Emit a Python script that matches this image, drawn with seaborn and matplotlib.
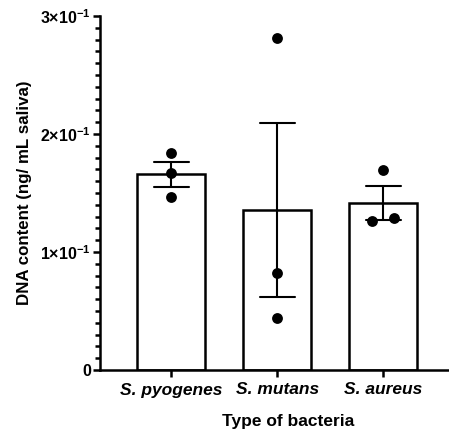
import numpy as np
import pandas as pd
import matplotlib
matplotlib.use("Agg")
import matplotlib.pyplot as plt
from matplotlib.ticker import MultipleLocator, FixedLocator
import seaborn as sns

# ---- data ----
categories = ["S. pyogenes", "S. mutans", "S. aureus"]
pyogenes_vals = [0.184, 0.167, 0.147]
mutans_vals = [0.281, 0.082, 0.044]
aureus_vals = [0.1695, 0.1263, 0.1288]
y_tick_values = [0.0, 0.1, 0.2, 0.3]
y_tick_labels = ["0", r"$1{\times}10^{-1}$",
                 r"$2{\times}10^{-1}$", r"$3{\times}10^{-1}$"]
y_label = "DNA content (ng/ mL saliva)"
x_label = "Type of bacteria"

df = pd.DataFrame({
    "bacteria": [categories[0]] * len(pyogenes_vals)
    + [categories[1]] * len(mutans_vals)
    + [categories[2]] * len(aureus_vals),
    "dna": pyogenes_vals + mutans_vals + aureus_vals,
})

sns.set_theme(style="ticks")
plt.rcParams["font.family"] = ["Liberation Sans", "DejaVu Sans"]
plt.rcParams["font.weight"] = "bold"
plt.rcParams["mathtext.fontset"] = "custom"
plt.rcParams["mathtext.rm"] = "Liberation Sans:bold"
plt.rcParams["mathtext.bf"] = "Liberation Sans:bold"
plt.rcParams["mathtext.it"] = "Liberation Sans:bold:italic"
plt.rcParams["mathtext.default"] = "rm"

W, H = 449, 438
fig = plt.figure(figsize=(W / 100, H / 100), dpi=100)
ax = fig.add_axes([100 / W, (H - 370) / H, 348 / W, 354 / H])

lw = 1.8
sns.barplot(data=df, x="bacteria", y="dna", order=categories, ax=ax,
            color="white", saturation=1, edgecolor="black", linewidth=lw,
            width=0.64, errorbar=("se", 1), capsize=0.33,
            err_kws={"color": "black", "linewidth": 1.5})
sns.swarmplot(data=df, x="bacteria", y="dna", order=categories, ax=ax,
              color="black", size=7.8, zorder=5)

ax.set_ylim(0, 0.3)
ax.set_xlim(-0.67, 2.61)
ax.yaxis.set_major_locator(FixedLocator(y_tick_values))
ax.set_yticklabels(y_tick_labels)
ax.yaxis.set_minor_locator(MultipleLocator(0.01))
ax.set_xticks(range(len(categories)))
ax.set_xticklabels(categories, fontstyle="italic", fontweight="bold", fontsize=12.5)

for s in ["top", "right"]:
    ax.spines[s].set_visible(False)
for s in ["left", "bottom"]:
    ax.spines[s].set_linewidth(lw)
    ax.spines[s].set_color("black")

ax.tick_params(axis="y", which="major", length=5, width=lw, pad=1.5,
               labelsize=11.5, colors="black")
ax.tick_params(axis="y", which="minor", length=3.5, width=lw, colors="black")
ax.tick_params(axis="x", which="major", length=5, width=lw, pad=4, colors="black")

ax.set_ylabel(y_label, fontsize=12.2, fontweight="bold", color="black")
ax.set_xlabel(x_label, fontsize=12.5, fontweight="bold", color="black")
ax.yaxis.set_label_coords(-0.195, 0.5)
ax.xaxis.set_label_coords(0.54, -0.125)

# let seaborn compute the swarm, then spread overlapping points symmetrically
fig.canvas.draw()
for coll in ax.collections:
    if "draw" in coll.__dict__:
        del coll.draw
    offs = np.array(coll.get_offsets(), dtype=float)
    if len(offs) == 0:
        continue
    centre = np.round(np.median(offs[:, 0]))
    moved = np.abs(offs[:, 0] - centre) > 1e-6
    if moved.sum() == 1:
        i = int(np.where(moved)[0][0])
        dy = np.abs(offs[:, 1] - offs[i, 1])
        dy[moved] = np.inf
        j = int(np.argmin(dy))
        d = abs(offs[i, 0] - centre)
        lo, hi = (i, j) if offs[i, 1] < offs[j, 1] else (j, i)
        offs[lo, 0] = centre - d
        offs[hi, 0] = centre + d
        coll.set_offsets(offs)

fig.savefig("out.png", dpi=100, facecolor="white")
